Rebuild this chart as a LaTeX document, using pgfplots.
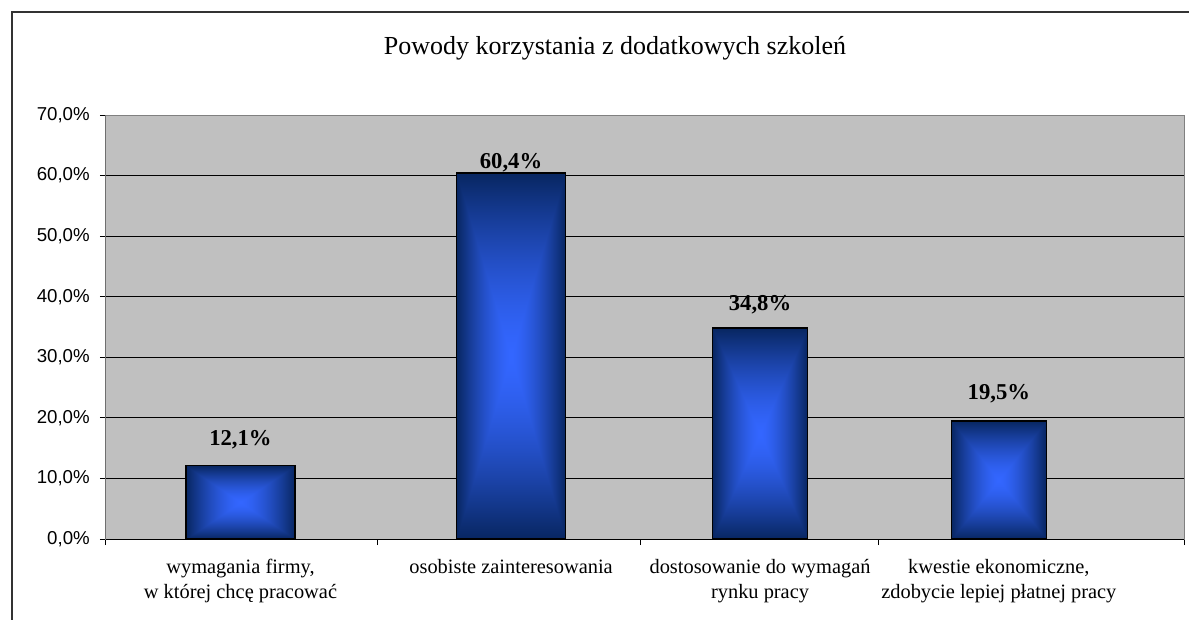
\documentclass[border=0pt]{standalone}
\usepackage{pgfplots}
\pgfplotsset{compat=1.18}
\usepackage{fontspec}
\setmainfont{Liberation Serif}
\newfontfamily\sansf{Liberation Sans}

\definecolor{plotbg}{HTML}{C0C0C0}

% rectangular "from centre" gradient, like the Excel bar fill
% (TikZ fits the central 50bp square onto the path, hence the 25)
\pgfdeclarefunctionalshading{rectgrad}{\pgfpoint{-50bp}{-50bp}}{\pgfpoint{50bp}{50bp}}{}{%
  abs exch abs 2 copy lt {exch} if pop 25 div
  dup 1 gt {pop 1} if
  1.5 exp
  dup 0.17 mul 0.2 exch sub exch
  dup 0.25 mul 0.4 exch sub exch
  0.62 mul 1 exch sub}

% one plot per bar, so that every bar gets its own gradient
\pgfplotsset{
  gradbar/.style={ybar, bar shift=0pt, draw=black, line width=1.1pt,
    shade, shading=rectgrad},
  labelup/.style={every node near coord/.append style={yshift=#1}},
}

\begin{document}
\begin{tikzpicture}
\useasboundingbox (0,0) rectangle (891.75pt,464.25pt);
\clip (0,0) rectangle (891.75pt,464.25pt);
\draw[black!80, line width=1.1pt] (9pt,-5pt) rectangle (900pt,455.25pt);
\node[anchor=base, font=\fontsize{19.5}{22}\selectfont] at (461.25pt,423pt)
  {Powody korzystania z dodatkowych szkoleń};

\begin{axis}[
    at={(79.5pt,60pt)}, anchor=south west,
    scale only axis, width=808.5pt, height=318pt,
    xmin=0, xmax=4, ymin=0, ymax=70,
    axis background/.style={fill=plotbg},
    axis line style={draw=black!50, line width=0.75pt},
    xtick pos=bottom, ytick pos=left,
    ytick={0,10,...,70},
    ymajorgrids, grid style={black, line width=0.75pt},
    tick align=outside, major tick length=4.5pt,
    tick style={black, line width=0.75pt},
    yticklabel={\pgfmathprintnumber[fixed,fixed zerofill,precision=1,use comma,assume math mode=true]{\tick}\%},
    yticklabel style={font=\sansf\fontsize{14}{16}\selectfont, inner sep=0pt, xshift=-7.5pt},
    xtick={0,1.006,1.985,2.868,4}, xticklabels={},
    extra x ticks={0.499,1.503,2.427,3.313},
    extra x tick labels={{wymagania firmy,\\w której chcę pracować},{osobiste zainteresowania},{dostosowanie do wymagań\\rynku pracy},{kwestie ekonomiczne,\\zdobycie lepiej płatnej pracy}},
    extra x tick style={major tick length=0pt,
      xticklabel style={align=center, anchor=north, inner sep=0pt, yshift=-15pt,
        font=\fontsize{15.3}{18.75}\selectfont}},
    nodes near coords={\pgfmathprintnumber[fixed,fixed zerofill,precision=1,use comma,assume math mode=true]{\pgfplotspointmeta}\%},
    point meta=y,
    every node near coord/.append style={anchor=center,
      font=\bfseries\fontsize{17}{18}\selectfont, text=black},
  ]
  \addplot[gradbar, bar width=0.4045, labelup=19.5pt] coordinates {(0.499,12.1)};
  \addplot[gradbar, bar width=0.4045, labelup=7.5pt]  coordinates {(1.503,60.4)};
  \addplot[gradbar, bar width=0.3525, labelup=17.25pt] coordinates {(2.427,34.8)};
  \addplot[gradbar, bar width=0.3525, labelup=20.25pt] coordinates {(3.313,19.5)};
  \draw[black, line width=0.75pt] (rel axis cs:0,0) -- (rel axis cs:0,1);
  \draw[black, line width=0.75pt] (rel axis cs:0,0) -- (rel axis cs:1,0);
\end{axis}
\end{tikzpicture}
\end{document}
